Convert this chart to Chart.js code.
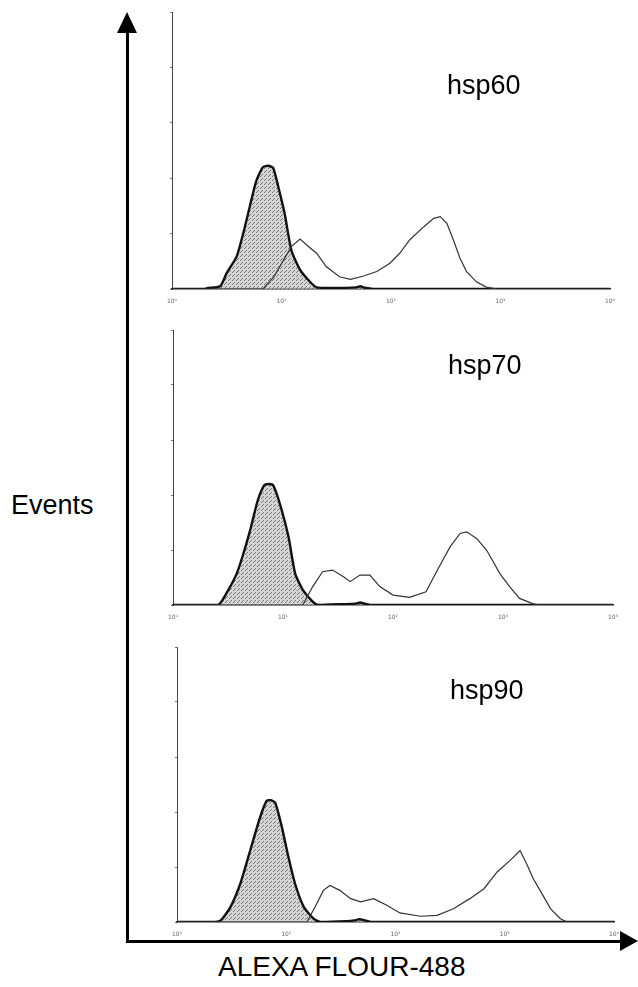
<!DOCTYPE html>
<html>
<head>
<meta charset="utf-8">
<script src="https://cdn.jsdelivr.net/npm/chart.js@4/dist/chart.umd.min.js"></script>
<style>
  html, body { margin: 0; padding: 0; background: #fff; }
  #page { position: relative; width: 638px; height: 987px; overflow: hidden; font-family: "Liberation Sans", Arial, sans-serif; color: #000; }
  .panel { position: absolute; }
  .lbl { position: absolute; line-height: 1; white-space: nowrap; }
  .vline { position: absolute; left: 126px; top: 28px; width: 3px; height: 915px; background: #000; }
  .vhead { position: absolute; left: 117px; top: 12px; width: 0; height: 0;
           border-left: 10px solid transparent; border-right: 10px solid transparent; border-bottom: 21px solid #000; }
  .hline { position: absolute; left: 126px; top: 940px; width: 496px; height: 3px; background: #000; }
  .hhead { position: absolute; left: 620px; top: 931px; width: 0; height: 0;
           border-top: 10px solid transparent; border-bottom: 10px solid transparent; border-left: 18px solid #000; }
</style>
</head>
<body>
<div id="page">
  <canvas id="c60" class="panel" style="left:160px;top:0px;width:460px;height:305px" width="460" height="305"></canvas>
  <canvas id="c70" class="panel" style="left:161px;top:318px;width:462px;height:303px" width="462" height="303"></canvas>
  <canvas id="c90" class="panel" style="left:165px;top:635px;width:459px;height:303px" width="459" height="303"></canvas>

  <div class="vline"></div><div class="vhead"></div>
  <div class="hline"></div><div class="hhead"></div>

  <div class="lbl" style="left:447px;top:72px;font-size:27px">hsp60</div>
  <div class="lbl" style="left:448px;top:352px;font-size:27px">hsp70</div>
  <div class="lbl" style="left:450px;top:677px;font-size:27px">hsp90</div>
  <div class="lbl" style="left:11px;top:492px;font-size:27px">Events</div>
  <div class="lbl" style="left:218px;top:953px;font-size:28px">ALEXA FLOUR-488</div>
</div>

<script>
// x positions are in log decades (0 = 10^0 ... 4 = 10^4), y = relative event count
const decadeTicks = ['10⁰', '10¹', '10²', '10³', '10⁴'];

// hsp60 panel
const iso60X = [0, 0.30, 0.32, 0.44, 0.50, 0.59, 0.65, 0.71, 0.77, 0.83, 0.88, 0.925, 0.97, 1.03, 1.09, 1.17, 1.26, 1.32, 1.50, 1.68, 1.72, 1.76, 1.86, 4];
const iso60Y = [0, 0, 0.3, 1, 5.8, 11.7, 20, 29.7, 39, 44, 44.5, 43.6, 37, 27, 14, 6.9, 2.6, 0.6, 0.4, 0.6, 1.0, 0.5, 0, 0];
const hsp60X = [0, 0.83, 0.93, 1.02, 1.09, 1.17, 1.23, 1.32, 1.41, 1.53, 1.63, 1.75, 1.87, 1.99, 2.08, 2.17, 2.30, 2.39, 2.45, 2.51, 2.57, 2.63, 2.69, 2.78, 2.87, 2.97, 4];
const hsp60Y = [0, 0, 4.4, 10.5, 15.3, 18, 15.9, 12.9, 8, 4.4, 3.5, 4.7, 6.3, 9.3, 12.9, 17.7, 22.5, 25.5, 26.1, 23.7, 17.7, 11.1, 6.3, 2.6, 0.7, 0, 0];

// hsp70 panel
const iso70X = [0, 0.41, 0.485, 0.58, 0.65, 0.71, 0.77, 0.83, 0.87, 0.91, 0.97, 1.05, 1.11, 1.18, 1.27, 1.32, 1.55, 1.66, 1.70, 1.74, 1.80, 4];
const iso70Y = [0, 0, 4.2, 11.5, 20, 28.5, 38, 43.6, 44, 43.6, 37, 24.8, 11.5, 5.5, 1.2, 0, 0.3, 0.5, 0.9, 0.5, 0, 0];
const hsp70X = [0, 1.18, 1.27, 1.36, 1.45, 1.55, 1.61, 1.70, 1.79, 1.88, 2.0, 2.15, 2.30, 2.42, 2.52, 2.61, 2.67, 2.76, 2.85, 2.91, 2.97, 3.06, 3.15, 3.27, 3.33, 4];
const hsp70Y = [0, 0, 6.7, 12.1, 12.7, 10.3, 8.5, 10.9, 10.9, 6.7, 3.6, 2.8, 4.8, 13.9, 21.2, 26, 26.6, 24.2, 20, 15.8, 11.5, 6.7, 2.4, 0.5, 0, 0];

// hsp90 panel
const iso90X = [0, 0.32, 0.40, 0.49, 0.58, 0.67, 0.76, 0.82, 0.86, 0.90, 0.96, 1.02, 1.08, 1.16, 1.25, 1.31, 1.55, 1.64, 1.67, 1.72, 1.78, 4];
const iso90Y = [0, 0, 0.6, 5.5, 14, 26, 38, 44, 44.3, 43.3, 34.5, 23.6, 14, 5.5, 1.2, 0, 0.3, 0.7, 1.0, 0.6, 0, 0];
const hsp90X = [0, 1.19, 1.28, 1.34, 1.40, 1.49, 1.59, 1.68, 1.80, 1.92, 2.04, 2.23, 2.38, 2.53, 2.68, 2.81, 2.93, 3.05, 3.14, 3.20, 3.26, 3.34, 3.42, 3.51, 3.57, 4];
const hsp90Y = [0, 0, 6.7, 11.5, 13.3, 11.5, 8.5, 7.3, 8.5, 6.1, 3.3, 2.1, 2.4, 4.8, 8.5, 12.1, 18.2, 22.4, 26, 21.2, 15.8, 10.3, 4.8, 1.2, 0, 0];

function toPoints(xs, ys) {
  return xs.map((x, i) => ({ x: x, y: ys[i] }));
}

// stippled grey like the scanned fill
function makeStipple(ctx) {
  const p = document.createElement('canvas');
  p.width = 4; p.height = 4;
  const g = p.getContext('2d');
  g.fillStyle = 'rgba(200,200,200,0.75)';
  g.fillRect(0, 0, 4, 4);
  g.fillStyle = 'rgba(90,90,90,0.75)';
  g.fillRect(0, 0, 1, 1);
  g.fillRect(2, 2, 1, 1);
  g.fillRect(1, 3, 1, 1);
  return ctx.createPattern(p, 'repeat');
}

function drawPanel(id, isoX, isoY, stainX, stainY) {
  const ctx = document.getElementById(id).getContext('2d');
  return new Chart(ctx, {
    type: 'line',
    data: {
      datasets: [
        {
          label: 'stained',
          data: toPoints(stainX, stainY),
          borderColor: '#333',
          borderWidth: 1.2,
          pointRadius: 0,
          fill: false,
          tension: 0
        },
        {
          label: 'isotype',
          data: toPoints(isoX, isoY),
          borderColor: '#111',
          borderWidth: 2.4,
          backgroundColor: makeStipple(ctx),
          pointRadius: 0,
          fill: 'origin',
          tension: 0.2
        }
      ]
    },
    options: {
      responsive: false,
      animation: false,
      layout: { padding: { top: 12, right: 10, left: 0, bottom: 0 } },
      plugins: { legend: { display: false }, tooltip: { enabled: false } },
      scales: {
        x: {
          type: 'linear',
          min: 0,
          max: 4,
          afterFit: (s) => { s.height = 16; },
          grid: { display: false },
          border: { display: true, color: '#222', width: 1.5, dash: [1, 1] },
          ticks: {
            stepSize: 1,
            padding: 1,
            color: '#666',
            font: { size: 6, family: 'DejaVu Sans' },
            callback: (v) => decadeTicks[v] || ''
          }
        },
        y: {
          min: 0,
          max: 100,
          afterFit: (s) => { s.width = 12; },
          grid: { display: true, drawOnChartArea: false, tickLength: 2, color: '#777' },
          border: { display: true, color: '#444', width: 1, dash: [1, 1] },
          ticks: { display: false, stepSize: 20 }
        }
      }
    }
  });
}

drawPanel('c60', iso60X, iso60Y, hsp60X, hsp60Y);
drawPanel('c70', iso70X, iso70Y, hsp70X, hsp70Y);
drawPanel('c90', iso90X, iso90Y, hsp90X, hsp90Y);
</script>
</body>
</html>
